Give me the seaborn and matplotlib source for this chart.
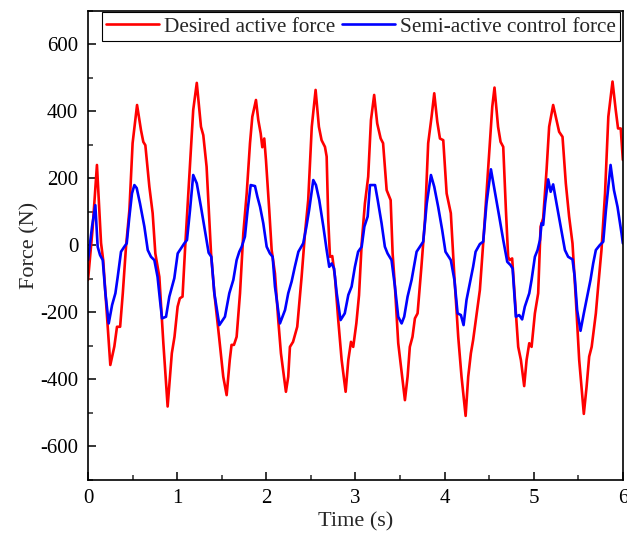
import numpy as np
import pandas as pd
import matplotlib
matplotlib.use("Agg")
import matplotlib.pyplot as plt
from matplotlib.ticker import MultipleLocator
import seaborn as sns

# ---- data ----
t_desired = [0.0, 0.05, 0.10, 0.146, 0.17, 0.21, 0.25, 0.295, 0.325, 0.36, 0.39, 0.426, 0.464, 0.50, 0.55,
             0.594, 0.62, 0.643, 0.688, 0.725, 0.755, 0.80, 0.845, 0.893, 0.94, 0.97, 1.005, 1.03, 1.06, 1.09,
             1.136, 1.18, 1.22, 1.267, 1.293, 1.33, 1.38, 1.417, 1.47, 1.517, 1.555, 1.59, 1.61, 1.637, 1.667,
             1.705, 1.742, 1.78, 1.817, 1.843, 1.884, 1.91, 1.937, 1.955, 1.977, 1.996, 2.033, 2.06, 2.097,
             2.134, 2.164, 2.22, 2.246, 2.265, 2.30, 2.347, 2.396, 2.434, 2.47, 2.51, 2.553, 2.59, 2.62, 2.658,
             2.677, 2.695, 2.714, 2.74, 2.77, 2.807, 2.845, 2.89, 2.92, 2.95, 2.975, 3.01, 3.04, 3.07, 3.106,
             3.143, 3.174, 3.21, 3.244, 3.283, 3.31, 3.35, 3.38, 3.395, 3.417, 3.443, 3.48, 3.555, 3.585, 3.61,
             3.64, 3.667, 3.697, 3.74, 3.78, 3.816, 3.854, 3.884, 3.918, 3.948, 3.985, 4.023, 4.07, 4.11, 4.153,
             4.19, 4.236, 4.265, 4.295, 4.32, 4.36, 4.396, 4.433, 4.47, 4.51, 4.535, 4.56, 4.60, 4.628, 4.658,
             4.688, 4.713, 4.73, 4.758, 4.79, 4.826, 4.856, 4.893, 4.92, 4.95, 4.976, 5.013, 5.05, 5.077, 5.106,
             5.144, 5.173, 5.218, 5.256, 5.285, 5.323, 5.36, 5.397, 5.435, 5.473, 5.51, 5.562, 5.593, 5.622,
             5.65, 5.697, 5.723, 5.76, 5.80, 5.837, 5.884, 5.92, 5.946, 5.976, 6.0]
f_desired = [-104, 45, 239, 6, -45, -203, -358, -303, -244, -244, -144, -5, 104, 304, 418,
             343, 308, 298, 174, 95, -25, -95, -293, -482, -323, -274, -184, -159, -154, -5,
             204, 403, 484, 353, 328, 234, -25, -144, -274, -393, -448, -343, -298, -298, -274,
             -144, 35, 154, 304, 383, 433, 373, 333, 292, 318, 254, 104, -15, -85,
             -224, -323, -438, -393, -304, -289, -244, -95, 35, 134, 353, 463, 353, 313, 293,
             264, 75, -35, -33, -95, -224, -343, -438, -343, -289, -304, -234, -150, 5, 124,
             204, 373, 448, 363, 318, 304, 164, 144, 134, -25, -124, -293, -463, -393, -304,
             -274, -219, -204, -65, 75, 304, 383, 453, 368, 318, 313, 154, 95, -95, -274,
             -393, -510, -393, -323, -284, -204, -134, 5, 154, 313, 413, 470, 353, 308, 293,
             104, -35, -45, -40, -164, -304, -343, -421, -343, -293, -304, -204, -144, 55, 80,
             224, 353, 418, 373, 338, 323, 184, 85, 5, -164, -343, -504, -423, -333,
             -304, -204, -124, -15, 154, 383, 488, 403, 348, 348, 254]

t_semi = [0.0, 0.045, 0.082, 0.108, 0.135, 0.165, 0.195, 0.232, 0.27, 0.307, 0.333, 0.37, 0.407, 0.434,
          0.464, 0.493, 0.52, 0.546, 0.583, 0.632, 0.67, 0.706, 0.744, 0.78, 0.807, 0.83, 0.875, 0.912,
          0.968, 1.006, 1.043, 1.08, 1.11, 1.144, 1.18, 1.22, 1.267, 1.316, 1.353, 1.383, 1.417, 1.473,
          1.536, 1.585, 1.63, 1.667, 1.697, 1.724, 1.76, 1.79, 1.825, 1.873, 1.90, 1.93, 1.966, 2.004,
          2.04, 2.071, 2.097, 2.153, 2.21, 2.246, 2.284, 2.32, 2.36, 2.414, 2.45, 2.48, 2.527, 2.557,
          2.594, 2.64, 2.677, 2.706, 2.733, 2.76, 2.79, 2.833, 2.88, 2.92, 2.957, 2.994, 3.03, 3.07, 3.10,
          3.137, 3.163, 3.22, 3.25, 3.293, 3.33, 3.36, 3.405, 3.443, 3.48, 3.518, 3.547, 3.585, 3.63,
          3.656, 3.686, 3.723, 3.76, 3.80, 3.847, 3.884, 3.928, 3.973, 4.01, 4.07, 4.11, 4.146, 4.183,
          4.213, 4.246, 4.284, 4.32, 4.348, 4.396, 4.433, 4.47, 4.52, 4.557, 4.613, 4.658, 4.703, 4.74,
          4.763, 4.80, 4.837, 4.87, 4.90, 4.95, 4.976, 5.013, 5.043, 5.07, 5.088, 5.106, 5.128, 5.162,
          5.19, 5.218, 5.256, 5.31, 5.35, 5.386, 5.435, 5.46, 5.487, 5.525, 5.562, 5.60, 5.637, 5.667,
          5.697, 5.742, 5.78, 5.81, 5.862, 5.90, 5.94, 5.985, 6.0]
f_semi = [-45, 55, 119, -5, -30, -45, -144, -234, -179, -144, -95, -20, -5, 5,
          85, 154, 179, 170, 124, 55, -15, -35, -45, -95, -164, -219, -214, -154,
          -99, -25, -10, 5, 15, 104, 209, 184, 114, 35, -23, -35, -144, -239,
          -214, -144, -104, -45, -20, -5, 25, 104, 179, 176, 144, 114, 65, -5,
          -25, -35, -124, -234, -194, -144, -109, -65, -20, 5, 55, 104, 194, 179,
          134, 55, -15, -65, -55, -70, -144, -224, -204, -149, -124, -65, -20, -5, 55,
          85, 179, 179, 134, 65, -5, -25, -45, -124, -214, -234, -214, -154, -104,
          -65, -20, -5, 10, 124, 209, 174, 114, 45, -20, -45, -104, -204, -209,
          -239, -164, -114, -65, -20, 3, 10, 124, 226, 170, 85, 15, -50, -60,
          -70, -214, -209, -222, -184, -144, -104, -35, -15, 15, 65, 60, 124, 196,
          159, 181, 124, 45, -15, -35, -43, -95, -194, -256, -204, -154, -104, -55,
          -15, 0, 10, 104, 239, 164, 114, 35, 5]

series_names = ["Desired active force", "Semi-active control force"]
series_colors = ["#ff0000", "#0000ff"]
x_label = "Time (s)"
y_label = "Force (N)"

df = pd.concat([
    pd.DataFrame({"t": t_desired, "F": f_desired, "series": series_names[0]}),
    pd.DataFrame({"t": t_semi, "F": f_semi, "series": series_names[1]}),
], ignore_index=True)

sns.set_style("ticks")
plt.rcParams["font.family"] = ["Liberation Serif", "DejaVu Serif"]
plt.rcParams["axes.unicode_minus"] = False

fig = plt.figure(figsize=(6.27, 5.37), dpi=100)
ax = fig.add_axes([0.1404, 0.107, 0.853, 0.8734])

sns.lineplot(data=df, x="t", y="F", hue="series", hue_order=series_names,
             palette=dict(zip(series_names, series_colors)), sort=False,
             estimator=None, linewidth=1.9, ax=ax)

ax.set_xlim(0, 6)
ax.set_ylim(-700, 700)
ax.xaxis.set_major_locator(MultipleLocator(1))
ax.xaxis.set_minor_locator(MultipleLocator(0.5))
ax.yaxis.set_major_locator(MultipleLocator(200))
ax.yaxis.set_minor_locator(MultipleLocator(100))
ax.tick_params(which="major", direction="in", length=6, width=1.1, labelsize=15, colors="black", pad=7)
ax.tick_params(which="minor", direction="in", length=3.5, width=1.1)
ax.tick_params(top=False, right=False, which="both")
for s in ax.spines.values():
    s.set_visible(True)
    s.set_linewidth(1.2)
    s.set_color("black")

ax.set_xlabel(x_label, fontsize=16, labelpad=3)
ax.set_ylabel(y_label, fontsize=16, labelpad=0.5)

leg = ax.legend(loc="upper right", bbox_to_anchor=(0.995, 0.996), ncol=2, fontsize=15.3,
                frameon=True, fancybox=False, edgecolor="black", framealpha=1,
                handlelength=2.5, handletextpad=0.25, columnspacing=0.28,
                borderpad=0.2, borderaxespad=0.0)
leg.get_frame().set_linewidth(0.8)
leg.set_title(None)

fig.savefig("out.png", dpi=100)
